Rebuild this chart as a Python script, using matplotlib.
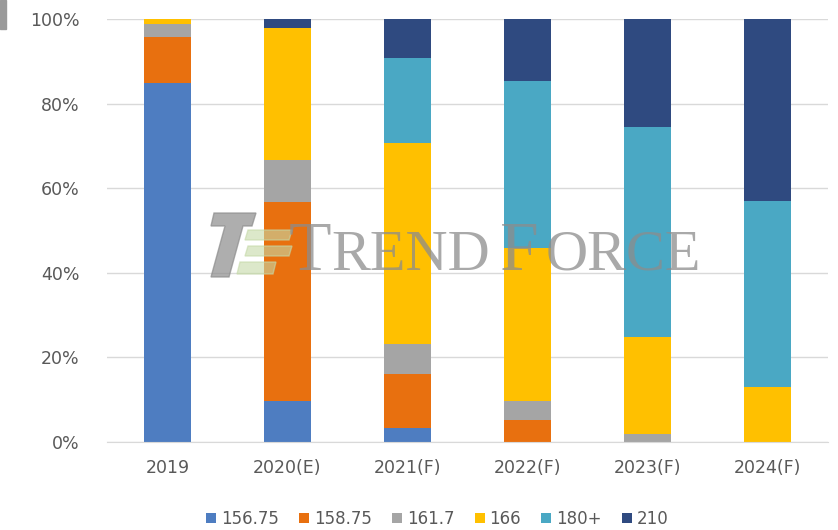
import numpy as np
import matplotlib.pyplot as plt

years = ["2019", "2020(E)", "2021(F)", "2022(F)", "2023(F)", "2024(F)"]
sizes = ["156.75", "158.75", "161.7", "166", "180+", "210"]

# share of each wafer size, percent
s156 = [84.8, 9.8, 3.4, 0.0, 0.0, 0.0]
s158 = [11.0, 47.0, 12.7, 5.2, 0.0, 0.0]
s161 = [3.0, 9.9, 7.1, 4.5, 1.9, 0.0]
s166 = [1.2, 31.1, 47.4, 36.1, 23.0, 13.1]
s180 = [0.0, 0.0, 20.3, 39.6, 49.6, 43.9]
s210 = [0.0, 2.2, 9.1, 14.6, 25.5, 43.0]

colors = ["#4E7DC1", "#E8700F", "#A5A5A5", "#FFC000", "#4AA8C4", "#2F4A80"]

W, H = 838, 530
fig = plt.figure(figsize=(W / 100, H / 100), dpi=100)
ax = fig.add_axes([0.128, 0.166, 0.86, 0.798])

x = np.arange(len(years))
bottom = np.zeros(len(years))
for name, vals, c in zip(sizes, [s156, s158, s161, s166, s180, s210], colors):
    vals = np.array(vals) / 100
    ax.bar(x, vals, width=0.39, bottom=bottom, color=c, label=name, zorder=2)
    bottom += vals

ax.set_xlim(-0.5, len(years) - 0.5)
ax.set_ylim(0, 1)
yt = np.arange(0, 1.01, 0.2)
ax.set_yticks(yt)
ax.set_yticklabels([f"{round(v * 100)}%" for v in yt])
ax.set_xticks(x)
ax.set_xticklabels(years)
ax.yaxis.grid(True, color="#D9D9D9", linewidth=1, zorder=0)
ax.set_axisbelow(True)
for s in ["top", "right", "left"]:
    ax.spines[s].set_visible(False)
ax.spines["bottom"].set_color("#D9D9D9")
ax.tick_params(axis="both", length=0, labelsize=12.5, colors="#595959")
ax.tick_params(axis="y", pad=20)
ax.tick_params(axis="x", pad=12)


def px(xp, yp):
    # pixel position from top-left -> figure fraction
    return (xp / W, 1 - yp / H)


# watermark logo
logo_gray = [px(214, 213), px(256, 213), px(252, 226), px(243, 226),
             px(229, 277), px(211, 277), px(225, 226), px(211, 226)]
fig.patches.append(plt.Polygon(logo_gray, closed=True, transform=fig.transFigure,
                               color="#8C8C8C", alpha=0.7, zorder=5))
for y0 in [230, 246]:
    bar = [px(248, y0), px(292, y0), px(289, y0 + 10), px(245, y0 + 10)]
    fig.patches.append(plt.Polygon(bar, closed=True, transform=fig.transFigure,
                                   color="#C5D9A8", alpha=0.6, zorder=5))
fig.patches.append(plt.Polygon([px(240, 262), px(276, 262), px(273, 274), px(237, 274)],
                               closed=True, transform=fig.transFigure,
                               color="#C5D9A8", alpha=0.6, zorder=5))

# watermark text
wm = dict(family="Liberation Serif", color="#8C8C8C", alpha=0.75, va="baseline", zorder=6)
fig.text(*px(289, 270), "T", fontsize=50, **wm)
fig.text(*px(331, 270), "REND", fontsize=42, **wm)
fig.text(*px(500, 270), "F", fontsize=50, **wm)
fig.text(*px(546, 270), "ORCE", fontsize=42, **wm)

fig.patches.append(plt.Rectangle((0, 0.945), 0.007, 0.055, transform=fig.transFigure,
                                 color="#9A9A9A"))

ax.legend(loc="upper center", bbox_to_anchor=(0.458, -0.125), ncol=6, frameon=False,
          fontsize=12, handlelength=0.6, handleheight=0.6, handletextpad=0.3,
          columnspacing=1.2, labelcolor="#595959")

plt.savefig("out.png", dpi=100)
